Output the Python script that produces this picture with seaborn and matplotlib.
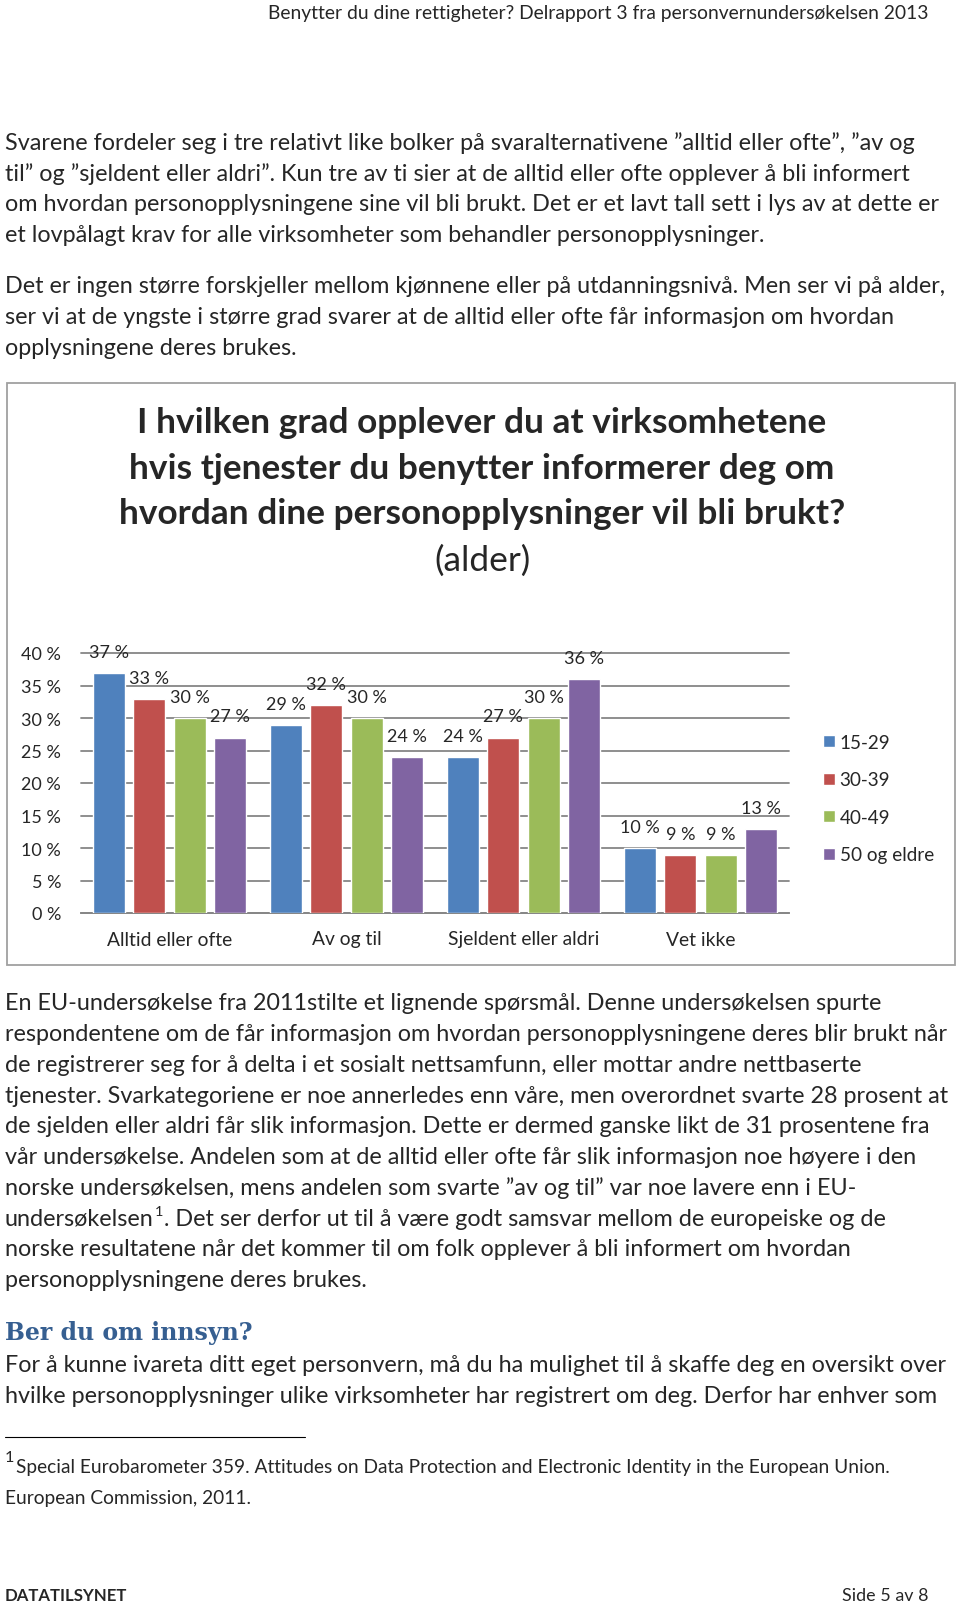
import numpy as np
import pandas as pd
import matplotlib
matplotlib.use("Agg")
import matplotlib.pyplot as plt
import seaborn as sns
from matplotlib.patches import Rectangle
from matplotlib.lines import Line2D

# ---------------- data ----------------
categories = ["Alltid eller ofte", "Av og til", "Sjeldent eller aldri", "Vet ikke"]
age_groups = ["15-29", "30-39", "40-49", "50 og eldre"]
share_15_29 = [37, 29, 24, 10]
share_30_39 = [33, 32, 27, 9]
share_40_49 = [30, 30, 30, 9]
share_50_plus = [27, 24, 36, 13]
y_ticks = [0, 5, 10, 15, 20, 25, 30, 35, 40]
y_tick_labels = [f"{t} %" for t in y_ticks]
bar_colors = ["#4F81BD", "#C0504D", "#9BBB59", "#8064A2"]

chart_title_lines = [
    "I hvilken grad opplever du at virksomhetene",
    "hvis tjenester du benytter informerer deg om",
    "hvordan dine personopplysninger vil bli brukt?",
]
chart_subtitle = "(alder)"

header_text = "Benytter du dine rettigheter? Delrapport 3 fra personvernundersøkelsen 2013"
para1 = [
    "Svarene fordeler seg i tre relativt like bolker på svaralternativene \u201dalltid eller ofte\u201d, \u201dav og",
    "til\u201d og \u201dsjeldent eller aldri\u201d. Kun tre av ti sier at de alltid eller ofte opplever å bli informert",
    "om hvordan personopplysningene sine vil bli brukt. Det er et lavt tall sett i lys av at dette er",
    "et lovpålagt krav for alle virksomheter som behandler personopplysninger.",
]
para2 = [
    "Det er ingen større forskjeller mellom kjønnene eller på utdanningsnivå. Men ser vi på alder,",
    "ser vi at de yngste i større grad svarer at de alltid eller ofte får informasjon om hvordan",
    "opplysningene deres brukes.",
]
para3 = [
    "En EU-undersøkelse fra 2011stilte et lignende spørsmål. Denne undersøkelsen spurte",
    "respondentene om de får informasjon om hvordan personopplysningene deres blir brukt når",
    "de registrerer seg for å delta i et sosialt nettsamfunn, eller mottar andre nettbaserte",
    "tjenester. Svarkategoriene er noe annerledes enn våre, men overordnet svarte 28 prosent at",
    "de sjelden eller aldri får slik informasjon. Dette er dermed ganske likt de 31 prosentene fra",
    "vår undersøkelse. Andelen som at de alltid eller ofte får slik informasjon noe høyere i den",
    "norske undersøkelsen, mens andelen som svarte \u201dav og til\u201d var noe lavere enn i EU-",
    None,
    "norske resultatene når det kommer til om folk opplever å bli informert om hvordan",
    "personopplysningene deres brukes.",
]
para3_sup_line = ("undersøkelsen", "1", ". Det ser derfor ut til å være godt samsvar mellom de europeiske og de")
heading = "Ber du om innsyn?"
para4 = [
    "For å kunne ivareta ditt eget personvern, må du ha mulighet til å skaffe deg en oversikt over",
    "hvilke personopplysninger ulike virksomheter har registrert om deg. Derfor har enhver som",
]
footnote_mark = "1"
footnote_lines = [
    "Special Eurobarometer 359. Attitudes on Data Protection and Electronic Identity in the European Union.",
    "European Commission, 2011.",
]
footer_left = "DATATILSYNET"
footer_right = "Side 5 av 8"

# ---------------- setup ----------------
sns.set_theme(style="white")
FONT = ["Lato", "DejaVu Sans"]
plt.rcParams["font.family"] = FONT

W, H = 960, 1606
fig = plt.figure(figsize=(W / 100, H / 100), dpi=100)
fig.patch.set_facecolor("white")
renderer = fig.canvas.get_renderer()


def fx(x):
    return x / W


def fy(y):
    return 1 - y / H


def measure(s, size, **kw):
    t = fig.text(0, 0, s, fontsize=size, **kw)
    bb = t.get_window_extent(renderer)
    t.remove()
    return bb.width, bb.height


def fit(s, target, **kw):
    w, _ = measure(s, 20, **kw)
    return 20 * target / w


def put(x, y, s, size, ha="left", va="center", **kw):
    return fig.text(fx(x), fy(y), s, fontsize=size, ha=ha, va=va, **kw)


# ---------------- page text ----------------
fs_header = fit(header_text, 663)
put(928, 13, header_text, fs_header, ha="right")

fs_body = fit(para3[1], 944)
step = 30.72
for i, line in enumerate(para1):
    put(5, 143.4 + i * step, line, fs_body)
for i, line in enumerate(para2):
    put(5, 286.9 + i * step, line, fs_body)
for i, line in enumerate(para3):
    y = 1004.0 + i * step
    if line is None:
        a, sup, b = para3_sup_line
        t = put(5, y, a, fs_body)
        wa = t.get_window_extent(renderer).width
        t2 = put(5 + wa + 1, y - 7, sup, fs_body * 0.62)
        ws = t2.get_window_extent(renderer).width
        put(5 + wa + ws + 1.5, y, b, fs_body)
    else:
        put(5, y, line, fs_body)

fs_head = fit(heading, 248, family="DejaVu Serif", weight="bold")
put(5, 1333, heading, fs_head, family="DejaVu Serif", weight="bold", color="#365F91")
for i, line in enumerate(para4):
    put(5, 1365.7 + i * step, line, fs_body)

fig.add_artist(Line2D([fx(5), fx(305)], [fy(1438), fy(1438)], transform=fig.transFigure,
                      color="black", lw=0.8))
fs_foot = fit(footnote_lines[0], 878)
put(5, 1458, footnote_mark, fs_foot * 0.85)
put(16, 1468, footnote_lines[0], fs_foot)
put(5, 1499, footnote_lines[1], fs_foot)

fs_footer_l = fit(footer_left, 122, weight="bold")
put(5, 1596, footer_left, fs_footer_l, weight="bold")
fs_footer_r = fit(footer_right, 86)
put(928, 1596, footer_right, fs_footer_r, ha="right")

# ---------------- chart box & title ----------------
fig.add_artist(Rectangle((fx(7), fy(966)), (955 - 7) / W, (966 - 384) / H,
                         transform=fig.transFigure, fill=False,
                         edgecolor="#A0A0A0", lw=1.3))
fs_title = fit(chart_title_lines[2], 727, weight="bold")
for i, line in enumerate(chart_title_lines):
    put(482, 423 + i * 45.6, line, fs_title, ha="center", weight="bold")
put(482, 561, chart_subtitle, fs_title, ha="center")

# ---------------- chart ----------------
df = pd.DataFrame({
    "Svar": categories * 4,
    "Alder": sum([[g] * len(categories) for g in age_groups], []),
    "Andel": share_15_29 + share_30_39 + share_40_49 + share_50_plus,
})

ax_left, ax_right, ax_top, ax_bottom = 81, 789, 654, 914
ax = fig.add_axes([fx(ax_left), fy(ax_bottom), (ax_right - ax_left) / W, (ax_bottom - ax_top) / H])
ax.set_facecolor("white")

sns.barplot(data=df, x="Svar", y="Andel", hue="Alder", order=categories,
            hue_order=age_groups, palette=bar_colors, saturation=1,
            width=0.911, gap=0.206, errorbar=None, ax=ax, zorder=3)

ax.set_xlim(-0.5, 3.5)
ax.set_ylim(0, 40)
ax.set_yticks(y_ticks)
fs_num = fit("40 %", 40)
ax.set_yticklabels(y_tick_labels)
ax.set_xlabel("")
ax.set_ylabel("")
for s in ["left", "top", "right"]:
    ax.spines[s].set_visible(False)
ax.spines["bottom"].set_color("#868686")
ax.spines["bottom"].set_linewidth(1.3)
ax.yaxis.grid(True, color="#868686", lw=1.3)
ax.set_axisbelow(True)
for gl in ax.get_ygridlines():
    gl.set_clip_on(False)

fs_cat = fit("Alltid eller ofte", 126)
_, h_cat = measure("Alltid eller ofte", fs_cat)
ax.tick_params(axis="y", length=0, pad=20 * 0.72, labelsize=fs_num)
ax.tick_params(axis="x", length=0, pad=(26 - h_cat / 2) * 0.72, labelsize=fs_cat)

for cont in ax.containers:
    txts = ax.bar_label(cont, labels=[f"{v:.0f} %" for v in cont.datavalues],
                        padding=21 * 0.72, fontsize=fs_num)
    for t in txts:
        t.set_va("center")

fs_leg = fit("50 og eldre", 94)
_, h_leg = measure("50 og eldre", fs_leg)
fs_leg_px = fs_leg / 0.72
sns.move_legend(ax, "center left", bbox_to_anchor=((823 - ax_left) / (ax_right - ax_left),
                                                  (ax_bottom - 799.5) / (ax_bottom - ax_top)),
                frameon=False, title=None, fontsize=fs_leg,
                handlelength=11.5 / fs_leg_px, handleheight=11.5 / fs_leg_px,
                handletextpad=5 / fs_leg_px, labelspacing=(37.5 - h_leg) / fs_leg_px,
                borderpad=0, borderaxespad=0)

fig.savefig("out.png", dpi=100, facecolor="white")
